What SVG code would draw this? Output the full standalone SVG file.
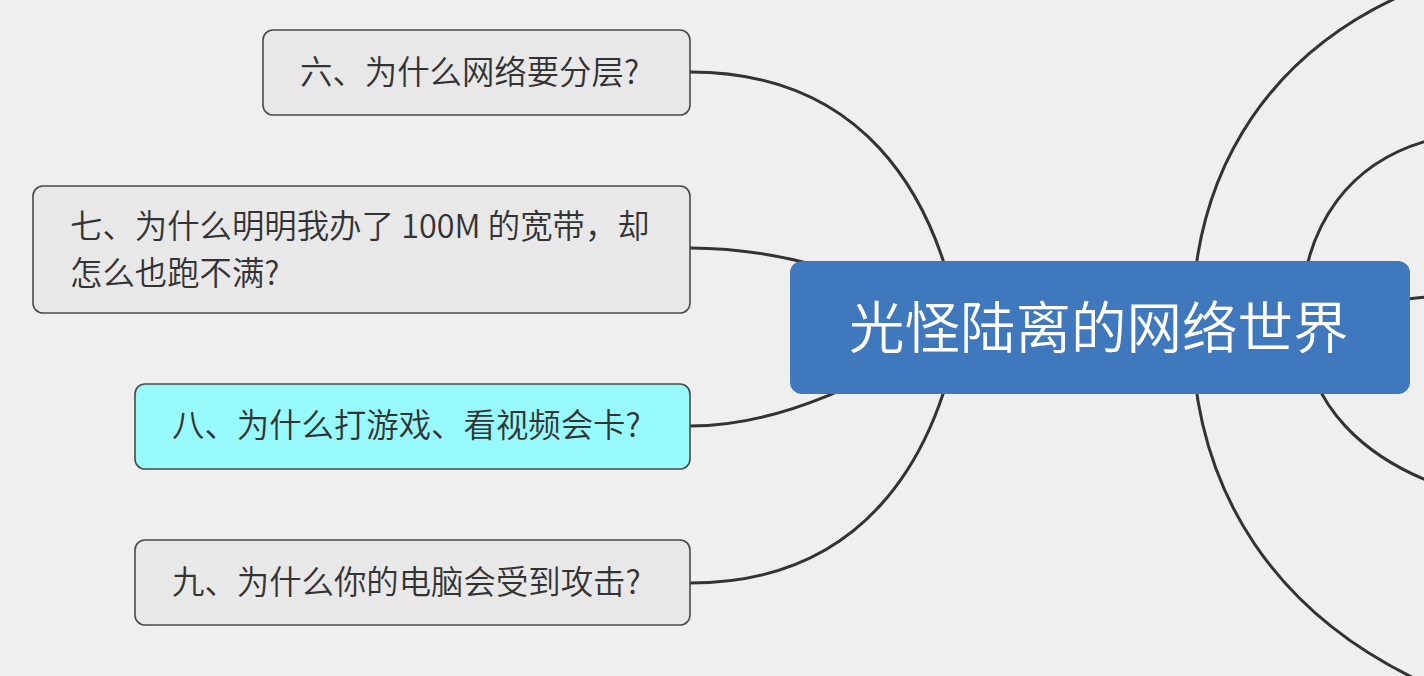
<svg xmlns="http://www.w3.org/2000/svg" width="1424" height="676" viewBox="0 0 1424 676">
<style>
.bg{fill:#efefef}
.conn path{fill:none;stroke:#333333;stroke-width:3;stroke-linecap:round}
.box{fill:#e8e8e8;stroke:#4a4a4a;stroke-width:1.6}
.hl{fill:#98f9fb}
.t{font-family:"Noto Sans CJK SC","Noto Sans",sans-serif;font-size:32.4px;font-weight:350;fill:#333333}
.root{fill:#3f78bd}
.rt{font-family:"Noto Sans CJK SC","Noto Sans",sans-serif;font-size:55.5px;font-weight:350;fill:#ffffff}
</style>
<rect class="bg" x="0" y="0" width="1424" height="676"/>
<g id="connectors" class="conn">
<path d="M 690 72 C 860 72 935 190 960 327"/>
<path d="M 690 248 C 800 248 900 290 960 327"/>
<path d="M 690 426 C 800 426 900 360 960 327"/>
<path d="M 690 583 C 860 583 935 464 960 327"/>
<path d="M 1192 327 C 1192 170 1270 40 1440 -20"/>
<path d="M 1192 327 C 1192 490 1275 620 1440 690"/>
<path d="M 1300 327 C 1300 232 1345 150 1460 134"/>
<path d="M 1305 327 C 1305 400 1360 465 1470 495"/>
<path d="M 1380 305 C 1400 300 1410 298 1430 297"/>
</g>
<g id="node-root">
<rect class="root" x="790" y="261" width="620" height="133" rx="12"/>
<text class="rt" x="849" y="348">光怪陆离的网络世界</text>
</g>
<g id="node-6">
<rect class="box" x="263" y="30" width="427" height="85" rx="10"/>
<text class="t" x="300" y="84">六、为什么网络要分层?</text>
</g>
<g id="node-7">
<rect class="box" x="33" y="186" width="657" height="127" rx="10"/>
<text class="t"><tspan x="70" y="238">七、为什么明明我办了 100M 的宽带，却</tspan><tspan x="70" y="285">怎么也跑不满?</tspan></text>
</g>
<g id="node-8">
<rect class="box hl" x="135" y="384" width="555" height="85" rx="10"/>
<text class="t" x="172" y="437">八、为什么打游戏、看视频会卡?</text>
</g>
<g id="node-9">
<rect class="box" x="135" y="540" width="555" height="85" rx="10"/>
<text class="t" x="172" y="594">九、为什么你的电脑会受到攻击?</text>
</g>
</svg>
